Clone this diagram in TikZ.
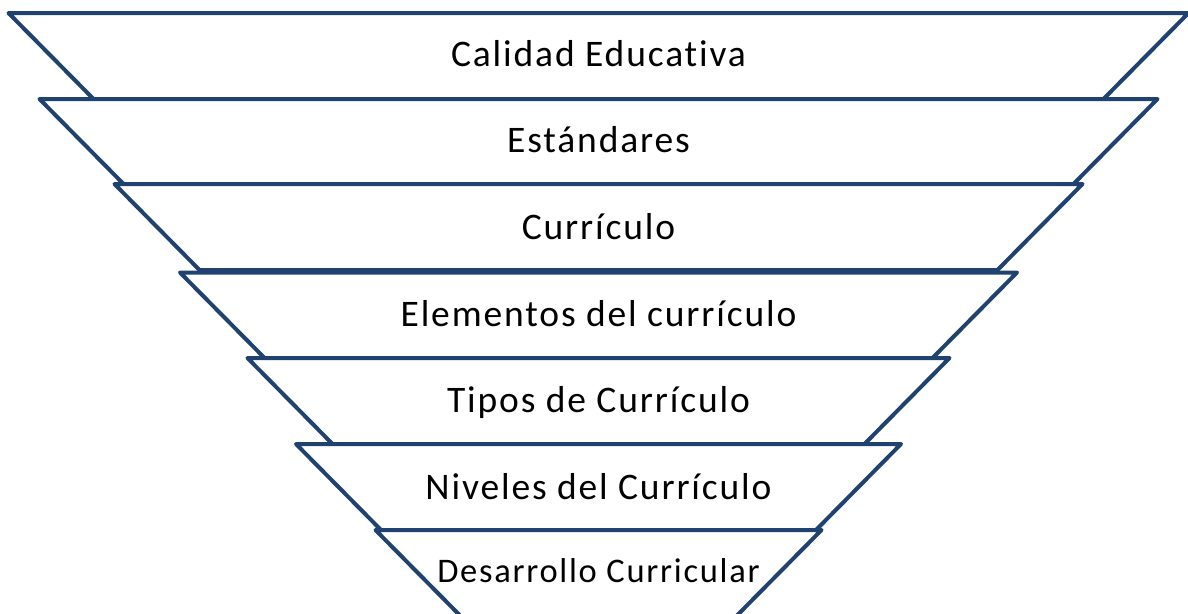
\documentclass[tikz,border=0pt]{standalone}
\usepackage{fontspec}
\setmainfont{Carlito}
\newfontfamily\lblfont[LetterSpace=5,Ligatures={NoCommon}]{Carlito}
\definecolor{edge}{RGB}{31,66,112}
\tikzset{
  layer/.style={draw=edge, line width=4pt, line join=round, fill=white},
  label/.style={anchor=base, text=black, font=\lblfont\fontsize{37.5}{44}\selectfont, inner sep=0pt},
  smalllabel/.style={label, font=\lblfont\fontsize{34.5}{41}\selectfont}
}
\begin{document}
\begin{tikzpicture}[x=1pt,y=-1pt]
\useasboundingbox (0,0) rectangle (1188,613);
\clip (0,0) rectangle (1188,613);
% trapezoids: top y, top half width; height 86, inset 85
\foreach \t/\w in {13/590, 99/559, 184/484, 272.5/418.5, 358/351, 444/302.5, 530/223}{
  \draw[layer] ({598.5-\w},\t) -- ({598.5+\w},\t) -- ({598.5+\w-85},{\t+86}) -- ({598.5-\w+85},{\t+86}) -- cycle;
}
\node[label] (l1) at (598.5,66.8) {Calidad Educativa};
\node[label] (l2) at (598.5,152.5) {Estándares};
\node[label] (l3) at (598.5,239) {Currículo};
\node[label] (l4) at (598.5,326.7) {Elementos del currículo};
\node[label] (l5) at (598.5,412) {Tipos de Currículo};
\node[label] (l6) at (598.5,499) {Niveles del Currículo};
\node[smalllabel] (l7) at (598.5,582.7) {Desarrollo Curricular};
\end{tikzpicture}
\end{document}
